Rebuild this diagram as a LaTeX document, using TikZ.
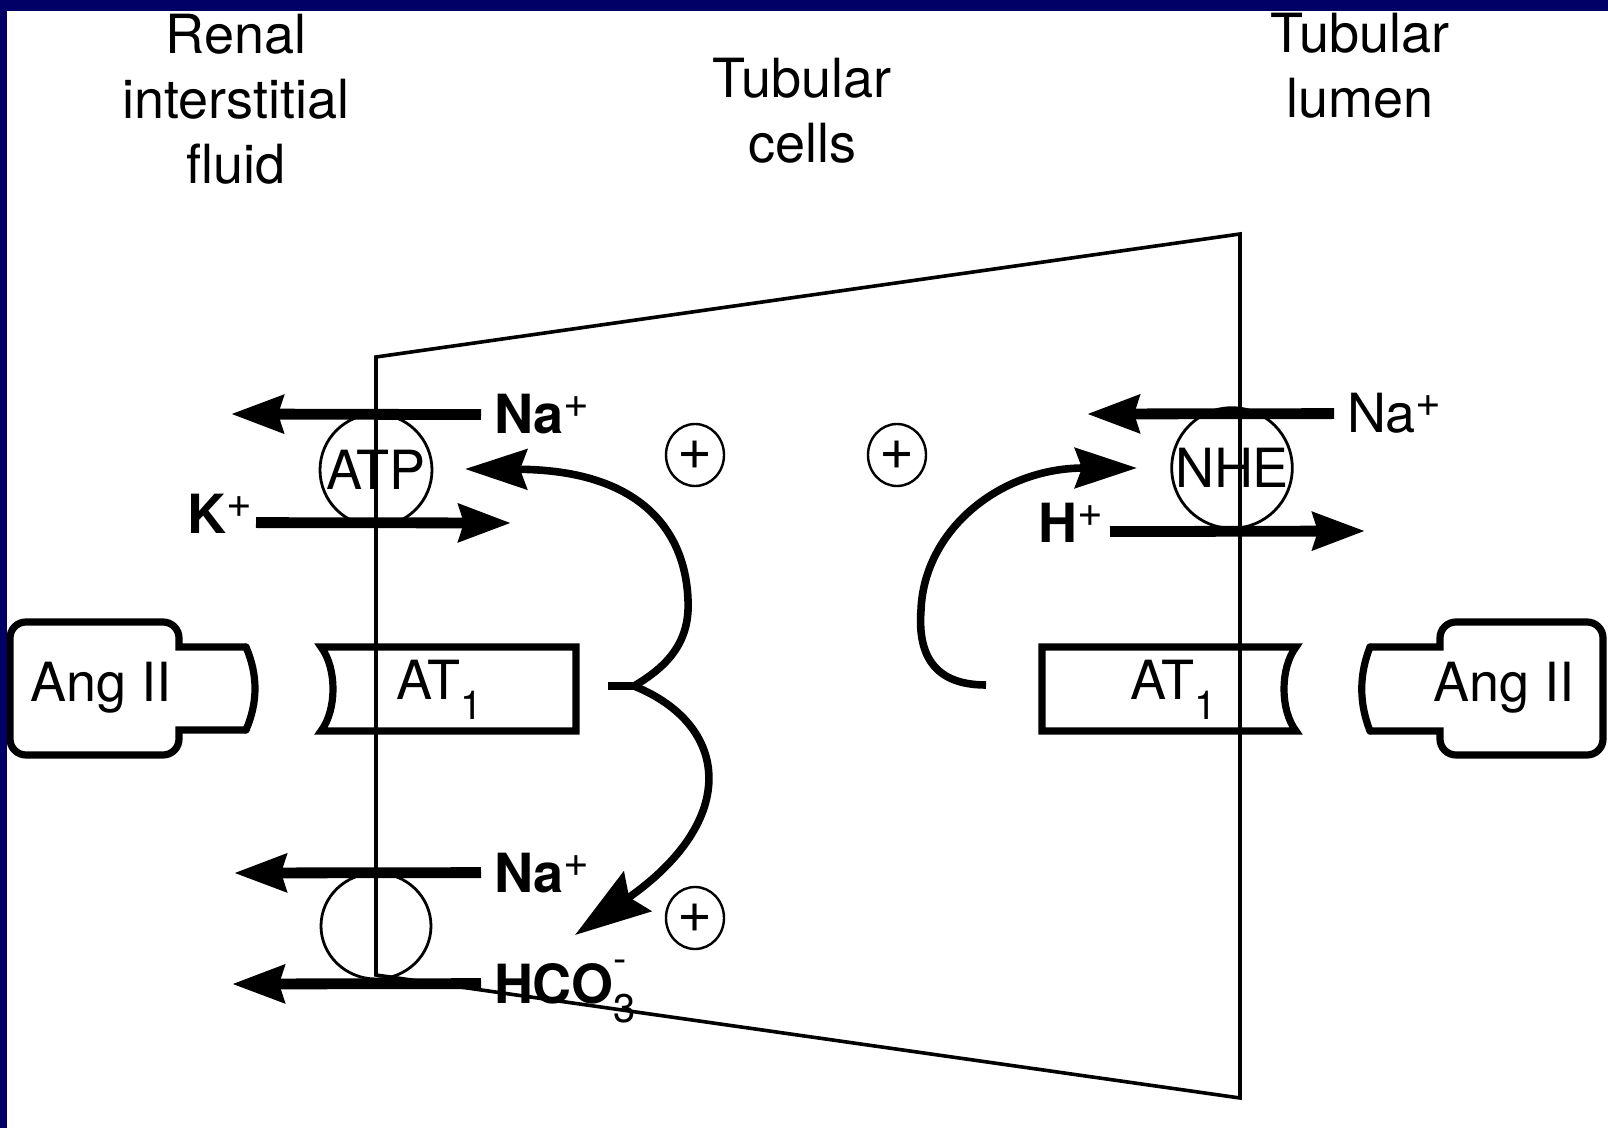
\documentclass[tikz,border=0pt]{standalone}
\usepackage{fontspec}
\setmainfont{TeX Gyre Heros}
\usetikzlibrary{arrows.meta,shapes.geometric}
\definecolor{slidenavy}{RGB}{0,0,102}
\newcommand{\ionsub}[1]{\raisebox{-9.5pt}{\fontsize{20}{20}\selectfont\mdseries #1}}
\newcommand{\ionsup}[1]{\raisebox{8pt}{\fontsize{22}{22}\selectfont\mdseries #1}}
\newcommand{\ionminus}{\rlap{\raisebox{15.5pt}{\fontsize{20}{20}\selectfont\mdseries -}}}
\tikzset{
  txt/.style={inner sep=0pt, font=\fontsize{27}{32.5}\selectfont},
  title/.style={txt, align=center, anchor=base},
  ion/.style={txt, outer xsep=6.5pt, text height=19.4pt, text depth=0pt},
  flow/.style={line width=5.4pt, -{Stealth[length=26pt,width=18.5pt,inset=2.5pt]}},
  signal/.style={line width=3.8pt, -{Stealth[length=31pt,width=20pt,inset=3.5pt]}},
  ligand/.style={line width=3.6pt, line cap=round},
  pump/.style={circle, draw, line width=1.4pt, inner sep=0pt, font=\fontsize{27}{32.5}\selectfont},
  plusmark/.style={ellipse, draw, line width=1.2pt, inner sep=0pt, minimum width=29pt, minimum height=31pt, font=\fontsize{30}{30}\selectfont}
}
\begin{document}
\begin{tikzpicture}[x=0.5pt,y=-0.5pt]
  \fill[white] (0,0) rectangle (1608,1128);
  \useasboundingbox (0,0) rectangle (1608,1128);
  \coordinate (tl) at (376,357);
  \coordinate (bl) at (376,975);
  \coordinate (br) at (1240,1098);
  \coordinate (tr) at (1240,234);

  % ligand and receptors
  \draw[ligand] (246,647) -- (179,647) [rounded corners=8pt] -- (179,622) -- (10,622) -- (10,755) -- (179,755) [sharp corners] -- (179,730) -- (246,730);
  \draw[ligand] (246,730) .. controls (258,702) and (258,675) .. (246,647);
  \draw[ligand] (1370,647) -- (1440,647) [rounded corners=8pt] -- (1440,622) -- (1603,622) -- (1603,755) -- (1440,755) [sharp corners] -- (1440,731) -- (1370,731);
  \draw[ligand] (1370,731) .. controls (1359,703) and (1359,675) .. (1370,647);
  \draw[ligand, line cap=butt, line join=miter] (321,731) .. controls (337,710) and (337,668) .. (321,647) -- (576,647) -- (576,731) -- cycle;
  \draw[ligand, line cap=butt, line join=miter] (1296,647) .. controls (1280,668) and (1280,710) .. (1296,731) -- (1042,731) -- (1042,647) -- cycle;
  \node[txt, anchor=base west] (angL) at (30,702) {Ang II};
  \node[txt, anchor=base west] (at1L) at (396,700) {AT\ionsub{1}};
  \node[txt, anchor=base west] (at1R) at (1130,700) {AT\ionsub{1}};
  \node[txt, anchor=base west] (angR) at (1433,702) {Ang II};

  % transporters
  \node[pump, minimum size=56pt] (atp) at (376,470) {ATP};
  \node[pump, minimum size=59pt] (nhe) at (1232,468) {NHE};
  \node[pump, ellipse, minimum width=55pt, minimum height=53pt] (nbc) at (376,926) {};

  \node[ion, anchor=base west] (naA) at (481,434) {\bfseries Na\ionsup{+}};
  \node[ion, outer xsep=2pt, anchor=base east] (kA) at (256,534) {\bfseries K\ionsup{+}};
  \node[ion, anchor=base west] (naB) at (481,892) {\bfseries Na\ionsup{+}};
  \node[ion, anchor=base west] (hco) at (481,1003) {\bfseries HCO\ionminus\ionsub{3}};
  \node[ion, anchor=base west] (naR) at (1334,433) {Na\ionsup{+}};
  \node[ion, outer xsep=3.5pt, anchor=base east] (hR) at (1110,543) {\bfseries H\ionsup{+}};
  \coordinate (naAtip) at (231,414);
  \coordinate (kAtip) at (511,523);
  \coordinate (naBtip) at (234,873);
  \coordinate (hcotip) at (232,984);
  \coordinate (naRtip) at (1087,414);
  \coordinate (hRtip) at (1365,531);
  \draw[flow] (naA.west) -- (naAtip);
  \draw[flow] ([yshift=-4pt]kA.east) -- (kAtip);
  \draw[flow] (naB.west) -- (naBtip);
  \draw[flow] (hco.west) -- (hcotip);
  \draw[flow] (naR.west) -- (naRtip);
  \draw[flow] ([yshift=-4pt]hR.east) -- (hRtip);

  % stimulation
  \foreach \name/\px/\py in {plusA/695/455, plusB/897/455, plusC/695/918}
    \node[plusmark] (\name) at (\px,\py) {+};
  \coordinate (brL) at (608,686);
  \coordinate (cuspL) at (634,686);
  \coordinate (tipUp) at (465,469);
  \coordinate (tipDn) at (575,935);
  \coordinate (brR) at (986,685);
  \coordinate (tipR) at (1137,468);
  \draw[line width=3.8pt] (brL) -- (cuspL);
  \draw[signal] (cuspL) .. controls (670,665) and (690,640) .. (688,600) .. controls (686,540) and (650,470) .. (tipUp);
  \draw[signal, -{Stealth[length=38pt,width=24pt,inset=5pt]}] (cuspL) .. controls (730,725) and (740,820) .. (tipDn);
  \draw[signal] (brR) .. controls (930,685) and (918,650) .. (921,610) .. controls (924,530) and (1000,468) .. (tipR);

  % cell
  \draw[line width=1.8pt, line join=miter] (tl) -- (bl) -- (br) -- (tr) -- cycle;

  \node[title] (renal) at (236,184) {Renal\\interstitial\\fluid};
  \node[title] (cells) at (802,163) {Tubular\\cells};
  \node[title] (lumen) at (1360,118) {Tubular\\lumen};

  \fill[slidenavy] (0,0) rectangle (1608,11);
  \fill[slidenavy] (0,0) rectangle (7,1128);
\end{tikzpicture}
\end{document}
